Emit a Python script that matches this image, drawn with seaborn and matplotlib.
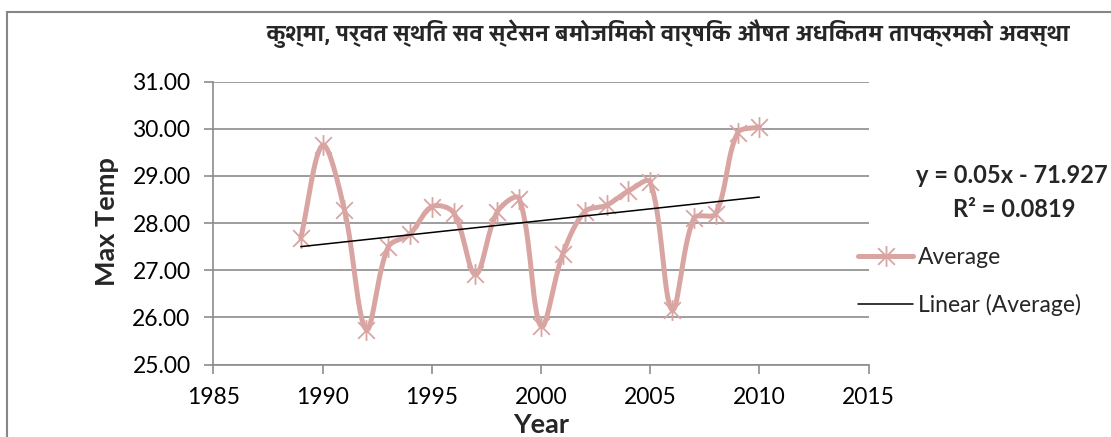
#!/usr/bin/env python3

import seaborn as sns
import pandas as pd
import numpy as np
import matplotlib
matplotlib.use("Agg")
import matplotlib.pyplot as plt
from matplotlib import font_manager
from matplotlib.ft2font import FT2Font
from matplotlib.lines import Line2D
from matplotlib.path import Path
from matplotlib.patches import Rectangle

# values
years = [1989, 1990, 1991, 1992, 1993, 1994, 1995, 1996, 1997, 1998, 1999,
         2000, 2001, 2002, 2003, 2004, 2005, 2006, 2007, 2008, 2009, 2010]
max_temp = [27.68, 29.65, 28.28, 25.74, 27.49, 27.77, 28.35, 28.22, 26.91, 28.24, 28.52,
            25.81, 27.35, 28.24, 28.38, 28.68, 28.87, 26.16, 28.10, 28.20, 29.91, 30.04]
x_ticks = [1985, 1990, 1995, 2000, 2005, 2010, 2015]
y_ticks = [25, 26, 27, 28, 29, 30, 31]

title = "कुश्मा, पर्वत स्थित सव स्टेसन बमोजिमको वार्षिक औषत अधिकतम तापक्रमको अवस्था"
eq_text = "y = 0.05x - 71.927"
r2_text = "R² = 0.0819"

LINE_COL = "#D9A5A3"
GRID_COL = "#8C8C8C"


def find_devanagari_font():
    best = None
    for f in font_manager.fontManager.ttflist:
        try:
            if 0x0915 in FT2Font(f.fname).get_charmap():
                if best is None or str(f.weight) in ("bold", "700"):
                    best = f.name
        except Exception:
            pass
    return best


def excel_smooth(ax, xs, ys, n=30):
    # bezier through the points, done in screen space like excel's smoothed line
    p = ax.transData.transform(np.column_stack([xs, ys]).astype(float))
    p = np.vstack([p[0], p, p[-1]])
    d = np.hypot(*np.diff(p, axis=0).T)
    t = np.linspace(0, 1, n, endpoint=False)[:, None]
    out = []
    for i in range(1, len(p) - 2):
        p0, p1, p2, p3 = p[i - 1], p[i], p[i + 1], p[i + 2]
        d01, d12, d23 = d[i - 1], d[i], d[i + 1]
        c1 = p1 + (p2 - p0) / 6 * (2 * d12 / (d01 + d12))
        c2 = p2 - (p3 - p1) / 6 * (2 * d12 / (d12 + d23))
        seg = ((1 - t) ** 3 * p1 + 3 * (1 - t) ** 2 * t * c1
               + 3 * (1 - t) * t ** 2 * c2 + t ** 3 * p2)
        out.append(seg)
    out.append(p[-2][None])
    out = ax.transData.inverted().transform(np.vstack(out))
    return out[:, 0], out[:, 1]


sns.set_theme(style="white")
plt.rcParams['font.family'] = ['Lato', 'DejaVu Sans']

deva = find_devanagari_font()
title_family = [deva, 'DejaVu Sans'] if deva else ['DejaVu Sans']

df = pd.DataFrame({"Year": years, "Max Temp": max_temp})

coef = np.polyfit(df["Year"], df["Max Temp"], 1)
trend = pd.DataFrame({"Year": [years[0], years[-1]]})
trend["Max Temp"] = np.polyval(coef, trend["Year"])

star = Path([(-1, -1), (1, 1), (-1, 1), (1, -1), (0, -1.25), (0, 1.25)],
            [Path.MOVETO, Path.LINETO, Path.MOVETO, Path.LINETO, Path.MOVETO, Path.LINETO])

fig = plt.figure(figsize=(11.11, 4.37), dpi=100)
ax = fig.add_axes([0.1921, 0.1659, 0.5897, 0.6471])
ax.set_xlim(1985, 2015)
ax.set_ylim(25, 31)

sx, sy = excel_smooth(ax, df["Year"], df["Max Temp"])
curve = pd.DataFrame({"Year": sx, "Max Temp": sy})

sns.lineplot(data=curve, x="Year", y="Max Temp", ax=ax, sort=False, color=LINE_COL,
             linewidth=3.6, solid_capstyle="round", zorder=3)
sns.lineplot(data=df, x="Year", y="Max Temp", ax=ax, color=LINE_COL, linestyle="",
             marker=star, markersize=15, markeredgecolor=LINE_COL, markeredgewidth=1.3, zorder=4)
sns.lineplot(data=trend, x="Year", y="Max Temp", ax=ax, color="black", linewidth=1.1, zorder=5)

ax.set_xlim(1985, 2015)
ax.set_ylim(25, 31)
ax.set_xticks(x_ticks)
ax.set_yticks(y_ticks)
ax.set_yticklabels(["%.2f" % v for v in y_ticks])
ax.set_xlabel("")
ax.set_ylabel("")
ax.grid(axis="y", color=GRID_COL, linewidth=1.2)
ax.grid(axis="x", visible=False)
for s in ["top", "right"]:
    ax.spines[s].set_visible(False)
for s in ["left", "bottom"]:
    ax.spines[s].set_color(GRID_COL)
    ax.spines[s].set_linewidth(1.2)
ax.tick_params(axis="both", direction="out", length=6.5, width=1.2, color=GRID_COL,
               labelsize=16.5, labelcolor="black", pad=10, bottom=True, left=True)

fig.text(0.0963, 0.492, "Max Temp", rotation=90, ha="center", va="center",
         fontsize=19.5, fontweight="bold")
fig.text(0.487, 0.027, "Year", ha="center", va="center", fontsize=19.5, fontweight="bold")
fig.text(0.601, 0.922, title, ha="center", va="center", fontsize=17.5, fontweight="bold",
         family=title_family)
fig.text(0.9105, 0.5995, eq_text, ha="center", va="center", fontsize=17, fontweight="bold")
fig.text(0.9125, 0.5195, r2_text, ha="center", va="center", fontsize=17, fontweight="bold")

handles = [Line2D([], [], color=LINE_COL, linewidth=3.6, marker=star, markersize=15,
                  markeredgecolor=LINE_COL, markeredgewidth=1.3),
           Line2D([], [], color="black", linewidth=1.1)]
fig.legend(handles, ["Average", "Linear (Average)"], loc="center left",
           bbox_to_anchor=(0.7723, 0.3555), frameon=False, fontsize=16.5,
           handlelength=2.4, handletextpad=0.22, borderpad=0, borderaxespad=0,
           labelspacing=1.15, numpoints=1)

# chart area border
fig.add_artist(Rectangle((0.0063, -0.2), 1.2, 1.1732, transform=fig.transFigure,
                         fill=False, edgecolor="#868686", linewidth=1.5))

plt.savefig("out.png", dpi=100)
